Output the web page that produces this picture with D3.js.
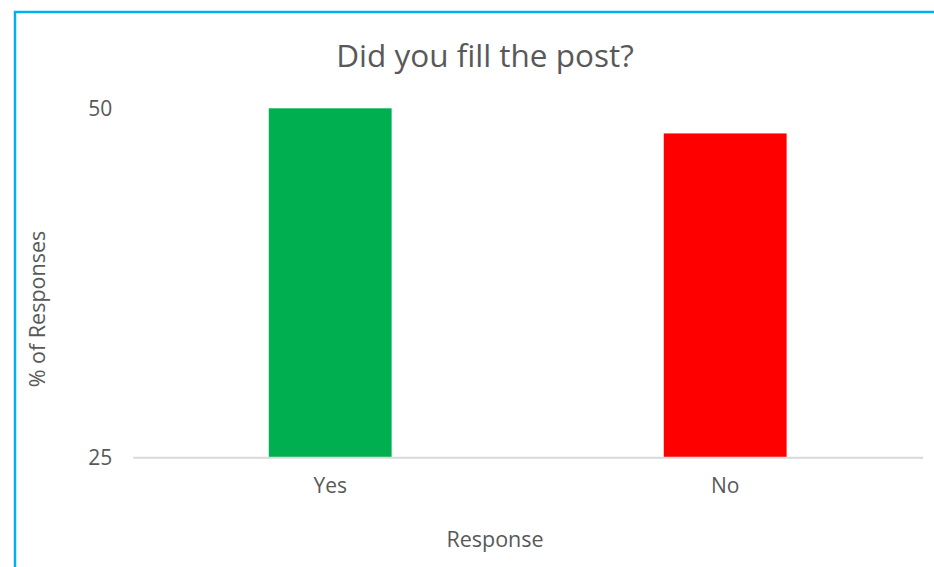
<!DOCTYPE html>
<html>
<head>
<meta charset="utf-8">
<script src="https://cdn.jsdelivr.net/npm/d3@7"></script>
<style>
  html, body { margin: 0; padding: 0; background: #fff; }
  svg { display: block; font-family: "Open Sans", "Noto Sans", sans-serif; }
</style>
</head>
<body>
<svg id="chart" width="934" height="567"></svg>
<script>
const categories = ["Yes", "No"];
const values = [50, 48.2];
const barColors = ["#00B050", "#FF0000"];
const yTicks = [25, 50];
const title = "Did you fill the post?";
const xTitle = "Response";
const yTitle = "% of Responses";

const svg = d3.select("#chart");
const W = 934, H = 567;
const plot = { left: 132.7, right: 922.7, top: 108.3, bottom: 457.3 };
const textColor = "#595959";

// frame (blue border on left and top)
svg.append("path")
  .attr("d", `M15,${H} L15,12 L${W},12`)
  .attr("fill", "none")
  .attr("stroke", "#00B0F0")
  .attr("stroke-width", 2.5);

const x = d3.scaleBand()
  .domain(categories)
  .range([plot.left, plot.right])
  .paddingInner(0.689)
  .paddingOuter(0.3445);

const y = d3.scaleLinear()
  .domain([25, 50])
  .range([plot.bottom, plot.top]);

// bars
svg.append("g").selectAll("rect")
  .data(categories)
  .join("rect")
  .attr("x", d => x(d))
  .attr("width", x.bandwidth())
  .attr("y", (d, i) => y(values[i]))
  .attr("height", (d, i) => y(25) - y(values[i]))
  .attr("fill", (d, i) => barColors[i]);

// x axis
const xAxis = svg.append("g")
  .attr("transform", `translate(0,${plot.bottom})`)
  .call(d3.axisBottom(x).tickSize(0).tickPadding(21));
xAxis.select(".domain").attr("stroke", "#D9D9D9").attr("stroke-width", 2);
xAxis.selectAll("text").attr("fill", textColor).attr("font-size", 21)
  .attr("font-family", "\"Open Sans\", sans-serif");

// y axis (labels only)
const yAxis = svg.append("g")
  .attr("transform", `translate(${plot.left},0)`)
  .call(d3.axisLeft(y).tickValues(yTicks).tickSize(0).tickPadding(20.4));
yAxis.select(".domain").remove();
yAxis.selectAll("text").attr("fill", textColor).attr("font-size", 21)
  .attr("font-family", "\"Open Sans\", sans-serif");

// title
svg.append("text")
  .attr("x", 485).attr("y", 67)
  .attr("text-anchor", "middle")
  .attr("fill", textColor)
  .attr("font-size", 31.5)
  .text(title);

// axis titles
svg.append("text")
  .attr("x", 495).attr("y", 547)
  .attr("text-anchor", "middle")
  .attr("fill", textColor)
  .attr("font-size", 21.5)
  .text(xTitle);

svg.append("text")
  .attr("transform", "translate(45,309) rotate(-90)")
  .attr("text-anchor", "middle")
  .attr("fill", textColor)
  .attr("font-size", 21.5)
  .text(yTitle);
</script>
</body>
</html>
